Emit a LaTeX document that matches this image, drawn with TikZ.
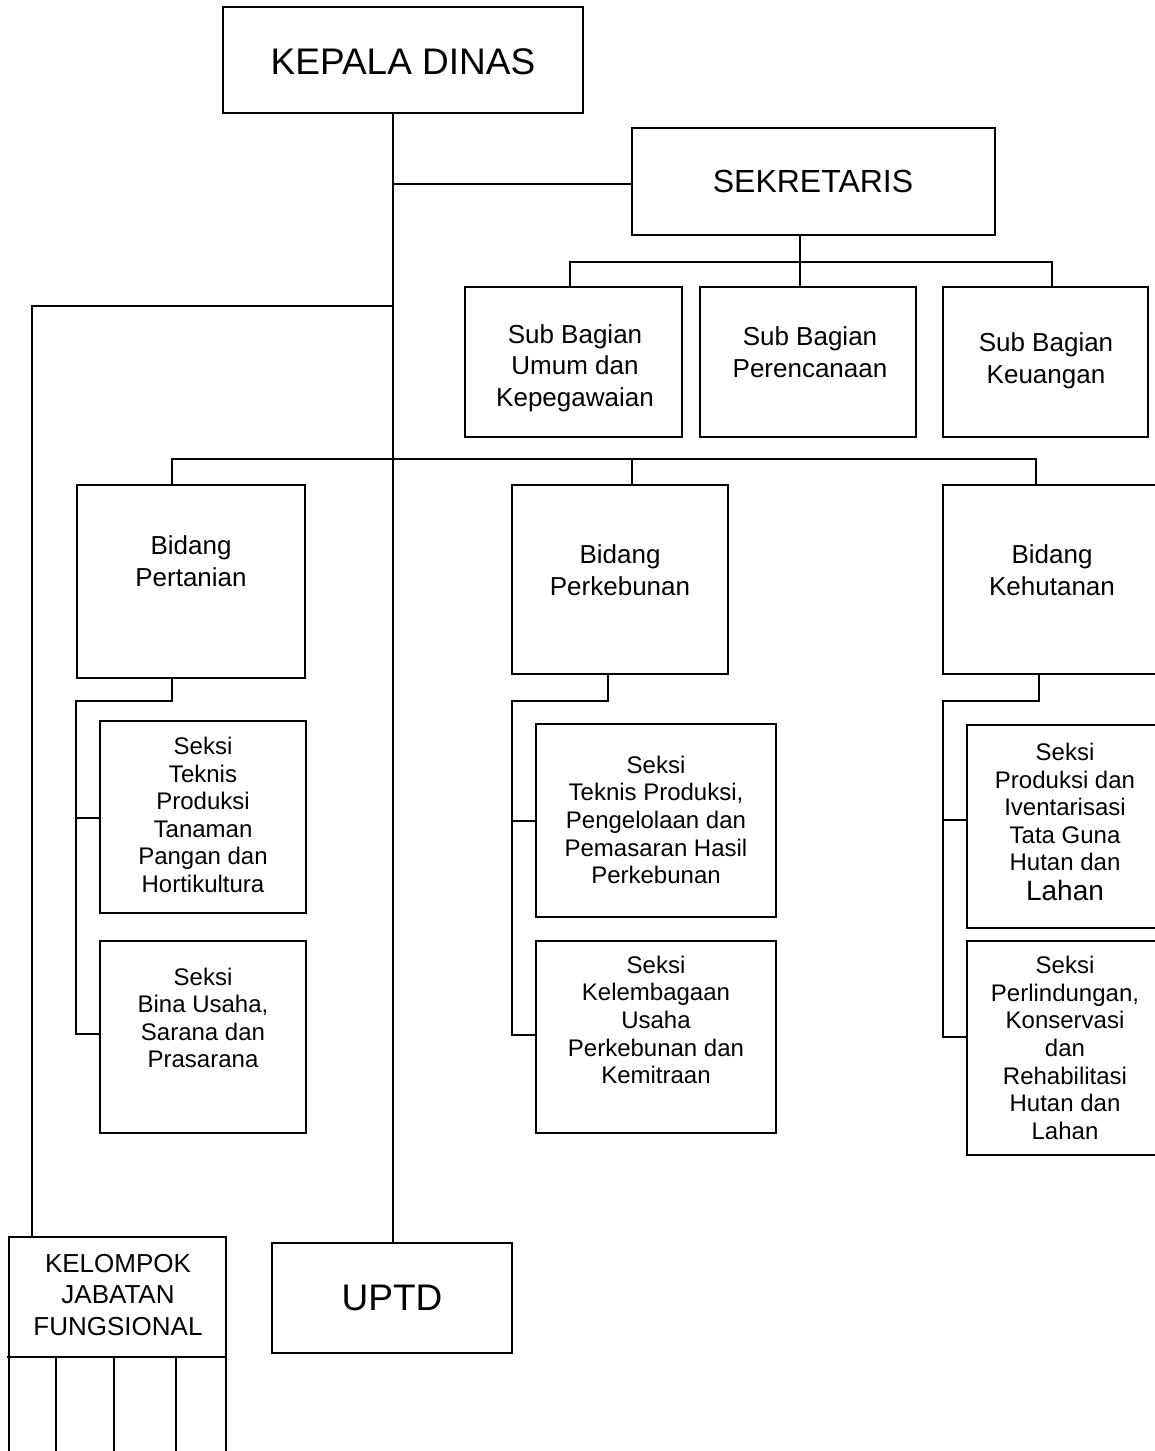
\documentclass[tikz,border=0pt]{standalone}
\usepackage{fontspec}
\setmainfont{Liberation Sans}
\usetikzlibrary{fit}

\begin{document}
\begin{tikzpicture}[x=1pt,y=-1pt,
  line width=1.6pt,
  orgbox/.style={draw, rectangle, inner sep=0pt, outer sep=0pt},
  txt/.style={align=center, inner sep=0pt},
  huge/.style={txt, font=\fontsize{37}{42}\selectfont},
  big/.style={txt, font=\fontsize{32}{37}\selectfont},
  mid/.style={txt, font=\fontsize{26}{31.5}\selectfont},
  small/.style={txt, font=\fontsize{24}{27.6}\selectfont}]

\useasboundingbox (0,0) rectangle (1155,1451);

% ---- boxes ----
\node[orgbox, fit={(223,7) (583,113)}] (kd) {};
\node[orgbox, fit={(632,128) (995,235)}] (sek) {};
\node[orgbox, fit={(465,287) (682,437)}] (umum) {};
\node[orgbox, fit={(700,287) (916,437)}] (renc) {};
\node[orgbox, fit={(943,287) (1148,437)}] (keu) {};
\node[orgbox, fit={(77,485) (305,678)}] (btani) {};
\node[orgbox, fit={(512,485) (728,674)}] (bkebun) {};
\node[orgbox, fit={(943,485) (1175,674)}] (bhutan) {};
\node[orgbox, fit={(100,721) (306,913)}] (sa) {};
\node[orgbox, fit={(100,941) (306,1133)}] (sb) {};
\node[orgbox, fit={(536,724) (776,917)}] (sc) {};
\node[orgbox, fit={(536,941) (776,1133)}] (sd) {};
\node[orgbox, fit={(967,725) (1165,928)}] (se) {};
\node[orgbox, fit={(967,941) (1165,1155)}] (sf) {};
\node[orgbox, fit={(9,1237) (226,1357)}] (klp) {};
\node[orgbox, fit={(272,1243) (512,1353)}] (uptd) {};

% ---- texts ----
\node[huge] (tkd) at (403,62) {KEPALA DINAS};
\node[big] (tsek) at (813,181) {SEKRETARIS};
\node[mid] (tumum) at (575,368) {Sub Bagian\\Umum dan\\Kepegawaian};
\node[mid] (trenc) at (810,352) {Sub Bagian\\Perencanaan};
\node[mid] (tkeu) at (1046,361) {Sub Bagian\\Keuangan};
\node[mid] (tbtani) at (191,561) {Bidang\\Pertanian};
\node[mid] (tbkebun) at (620,570) {Bidang\\Perkebunan};
\node[mid] (tbhutan) at (1052,570) {Bidang\\Kehutanan};
\node[small] (tsa) at (203,815) {Seksi\\Teknis\\Produksi\\Tanaman\\Pangan dan\\Hortikultura};
\node[small] (tsb) at (203,1018) {Seksi\\Bina Usaha,\\Sarana dan\\Prasarana};
\node[small] (tsc) at (656,820) {Seksi\\Teknis Produksi,\\Pengelolaan dan\\Pemasaran Hasil\\Perkebunan};
\node[small] (tsd) at (656,1020) {Seksi\\Kelembagaan\\Usaha\\Perkebunan dan\\Kemitraan};
\node[small] (tse) at (1065,822) {Seksi\\Produksi dan\\Iventarisasi\\Tata Guna\\Hutan dan\\[2pt]{\fontsize{28}{30}\selectfont Lahan}};
\node[small] (tsf) at (1065,1048) {Seksi\\Perlindungan,\\Konservasi\\dan\\Rehabilitasi\\Hutan dan\\Lahan};
\node[mid] (tklp) at (118,1295) {KELOMPOK\\JABATAN\\FUNGSIONAL};
\node[huge] (tuptd) at (392,1298) {UPTD};

% ---- junction points ----
\coordinate (trunk) at (393,0);
\coordinate (sekj) at (393,184);
\coordinate (sbus) at (800,262);
\coordinate (ja) at (570,262);
\coordinate (jc) at (1052,262);
\coordinate (leftj) at (393,306);
\coordinate (leftc) at (32,306);
\coordinate (bbus) at (393,459);
\coordinate (bl) at (172,459);
\coordinate (bm) at (632,459);
\coordinate (br) at (1036,459);
\coordinate (ptop) at (172,701);
\coordinate (pl) at (76,701);
\coordinate (ktop) at (608,701);
\coordinate (kl) at (512,701);
\coordinate (htop) at (1039,701);
\coordinate (hl) at (943,701);

% ---- connectors ----
\draw (kd.south -| trunk) -- (uptd.north -| trunk);
\draw (sekj) -- (sekj -| sek.west);
\draw (sek.south -| sbus) -- (sbus);
\draw (ja |- umum.north) -- (ja) -- (jc) -- (jc |- keu.north);
\draw (sbus) -- (sbus |- renc.north);
\draw (leftj) -- (leftc) -- (leftc |- klp.north);
\draw (bl |- btani.north) -- (bl) -- (br) -- (br |- bhutan.north);
\draw (bm) -- (bm |- bkebun.north);

% Pertanian sections
\draw (ptop |- btani.south) -- (ptop) -- (pl) -- (pl |- 0,1034) -- (sb.west |- 0,1034);
\draw (pl |- 0,818) -- (sa.west |- 0,818);
% Perkebunan sections
\draw (ktop |- bkebun.south) -- (ktop) -- (kl) -- (kl |- 0,1035) -- (sd.west |- 0,1035);
\draw (kl |- 0,821) -- (sc.west |- 0,821);
% Kehutanan sections
\draw (htop |- bhutan.south) -- (htop) -- (hl) -- (hl |- 0,1037) -- (sf.west |- 0,1037);
\draw (hl |- 0,820) -- (se.west |- 0,820);

% columns under the functional group
\coordinate (g0) at (7,1357);
\draw (g0) -- (klp.south west);
\foreach \gx in {9,56,114,176,226}
  \draw (\gx,1357) -- (\gx,1460);
\end{tikzpicture}
\end{document}
